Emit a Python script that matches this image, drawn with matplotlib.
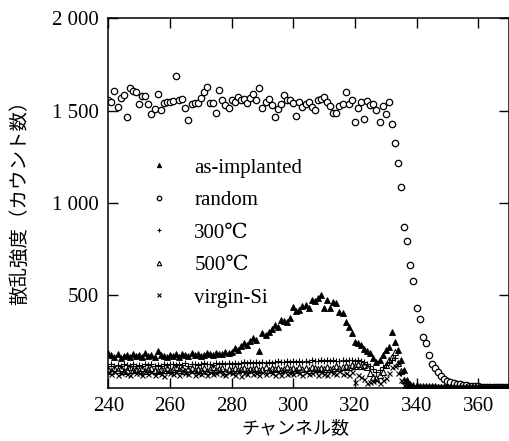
import matplotlib
matplotlib.use("Agg")
import matplotlib.pyplot as plt
import numpy as np

plt.rcParams['font.family'] = ['Liberation Serif', 'DejaVu Serif', 'Noto Sans CJK JP']

channels = np.arange(240, 371)

random_counts = [
    1558, 1549, 1609, 1522, 1567, 1585, 1468, 1621, 1609, 1603,
    1537, 1580, 1580, 1537, 1482, 1508, 1589, 1504, 1544, 1546,
    1546, 1550, 1690, 1558, 1562, 1513, 1450, 1535, 1544, 1540,
    1567, 1603, 1627, 1544, 1544, 1486, 1612, 1558, 1531, 1513,
    1558, 1549, 1576, 1558, 1562, 1540, 1567, 1591, 1558, 1623,
    1517, 1549, 1562, 1531, 1468, 1508, 1535, 1585, 1558, 1558,
    1540, 1472, 1549, 1522, 1537, 1549, 1522, 1504, 1558, 1562,
    1573, 1549, 1526, 1486, 1486, 1526, 1535, 1603, 1535, 1558,
    1437, 1517, 1549, 1455, 1553, 1531, 1535, 1504, 1441, 1526,
    1481, 1549, 1428, 1327, 1219, 1085, 872, 796, 665, 578,
    430, 372, 273, 240, 175, 128, 104, 85, 62, 48,
    38, 30, 25, 22, 20, 16, 12, 10, 9, 8,
    7, 6, 6, 5, 5, 5, 4, 4, 4, 4, 4,
]

as_implanted = [
    186, 175, 168, 180, 160, 172, 178, 165, 182, 170,
    176, 168, 188, 172, 178, 165, 200, 175, 170, 168,
    178, 172, 180, 168, 185, 175, 172, 190, 176, 182,
    170, 178, 186, 182, 175, 190, 180, 185, 192, 188,
    195, 213, 205, 225, 240, 230, 255, 267, 260, 200,
    294, 285, 300, 320, 339, 330, 367, 360, 357, 380,
    439, 415, 421, 440, 448, 430, 475, 470, 484, 502,
    430, 475, 430, 466, 460, 412, 403, 358, 329, 295,
    249, 240, 231, 210, 200, 186, 159, 141, 150, 177,
    204, 222, 300, 249, 204, 150, 96, 42, 22, 14,
    12, 10, 9, 8, 8, 7, 7, 6, 6, 6,
    5, 6, 5, 5, 6, 5, 4, 5, 5, 5,
    4, 5, 4, 5, 4, 4, 5, 4, 4, 4, 4,
]

c300 = [
    120, 128, 115, 125, 118, 130, 122, 116, 126, 120,
    124, 118, 130, 122, 127, 115, 125, 120, 128, 123,
    126, 130, 121, 128, 124, 132, 119, 127, 130, 125,
    128, 133, 126, 130, 124, 135, 128, 131, 127, 134,
    130, 136, 128, 134, 138, 131, 137, 133, 140, 135,
    138, 134, 141, 136, 139, 143, 137, 140, 145, 138,
    142, 139, 146, 141, 144, 140, 148, 143, 146, 150,
    145, 149, 144, 151, 147, 143, 150, 146, 152, 148,
    145, 150, 147, 140, 130, 115, 100, 85, 95, 110,
    125, 140, 150, 160, 130, 80, 40, 18, 8, 5,
    4, 3, 3, 3, 3, 3, 3, 3, 3, 3,
    3, 3, 3, 3, 3, 3, 3, 3, 3, 3,
    3, 3, 3, 3, 3, 3, 3, 3, 3, 3, 3,
]

c500 = [
    100, 92, 108, 95, 104, 90, 98, 110, 94, 102,
    96, 105, 92, 100, 108, 95, 90, 102, 98, 106,
    94, 100, 110, 96, 104, 92, 99, 107, 95, 101,
    97, 108, 93, 102, 110, 96, 100, 105, 92, 103,
    98, 106, 95, 101, 109, 94, 103, 99, 107, 96,
    102, 110, 97, 104, 100, 108, 95, 103, 111, 99,
    105, 98, 110, 102, 107, 96, 112, 104, 100, 109,
    103, 111, 99, 108, 115, 106, 114, 120, 110, 124,
    118, 128, 115, 123, 110, 80, 60, 55, 70, 87,
    123, 150, 168, 195, 134, 90, 40, 15, 6, 4,
    3, 3, 3, 3, 3, 3, 3, 3, 3, 3,
    3, 3, 3, 3, 3, 3, 3, 3, 3, 3,
    3, 3, 3, 3, 3, 3, 3, 3, 3, 3, 3,
]

virgin_si = [
    85, 72, 90, 68, 80, 95, 75, 70, 88, 78,
    82, 66, 92, 74, 84, 70, 86, 76, 64, 90,
    78, 72, 85, 68, 94, 80, 74, 88, 70, 82,
    76, 90, 68, 84, 72, 80, 92, 74, 66, 86,
    78, 70, 88, 64, 82, 76, 90, 72, 80, 68,
    86, 74, 92, 78, 70, 84, 66, 88, 76, 82,
    72, 90, 80, 68, 86, 74, 78, 92, 70, 84,
    76, 66, 88, 80, 72, 90, 74, 82, 68, 86,
    32, 70, 60, 45, 23, 30, 35, 42, 27, 40,
    50, 80, 110, 120, 80, 40, 15, 6, 3, 2,
    2, 2, 2, 2, 2, 2, 2, 2, 2, 2,
    2, 2, 2, 2, 2, 2, 2, 2, 2, 2,
    2, 2, 2, 2, 2, 2, 2, 2, 2, 2, 2,
]

y_ticks = [500, 1000, 1500, 2000]
y_tick_labels = ["500", "1 000", "1 500", "2 000"]
x_ticks = [240, 260, 280, 300, 320, 340, 360]

fig = plt.figure(figsize=(5.10, 4.41), dpi=100)
ax = fig.add_axes([0.2124, 0.1209, 0.7856, 0.8376])

ax.plot(channels, as_implanted, linestyle='none', marker='^', ms=4.6,
        mfc='black', mec='black', mew=0.6, label='as-implanted')
ax.plot(channels, random_counts, linestyle='none', marker='o', ms=4.6,
        mfc='white', mec='black', mew=0.9, label='random')
ax.plot(channels, c300, linestyle='none', marker='+', ms=5,
        color='black', mew=0.8, label='300℃')
ax.plot(channels, c500, linestyle='none', marker='^', ms=4.6,
        mfc='none', mec='black', mew=0.8, label='500℃')
ax.plot(channels, virgin_si, linestyle='none', marker='x', ms=3.6,
        color='black', mew=0.8, label='virgin-Si')

ax.set_xlim(240, 370)
ax.set_ylim(0, 2000)
ax.set_xticks(x_ticks)
ax.set_yticks(y_ticks)
ax.set_yticklabels(y_tick_labels)
ax.tick_params(direction='in', length=7, width=1, labelsize=15, pad=7,
               top=True, right=True)
for sp in ax.spines.values():
    sp.set_linewidth(1.1)

ax.set_xlabel('チャンネル数', fontsize=13, family=['Noto Sans CJK JP'])
ax.set_ylabel('散乱強度（カウント数）', fontsize=14, family=['Noto Sans CJK JP'])
ax.xaxis.set_label_coords(0.466, -0.084)
ax.yaxis.set_label_coords(-0.195, 0.514)

leg = ax.legend(loc='upper left', bbox_to_anchor=(0.10, 0.622), frameon=False,
                fontsize=15, markerscale=0.7, handlelength=1.0,
                handletextpad=1.2, labelspacing=0.62, borderpad=0,
                borderaxespad=0)

fig.savefig('out.png', dpi=100)
